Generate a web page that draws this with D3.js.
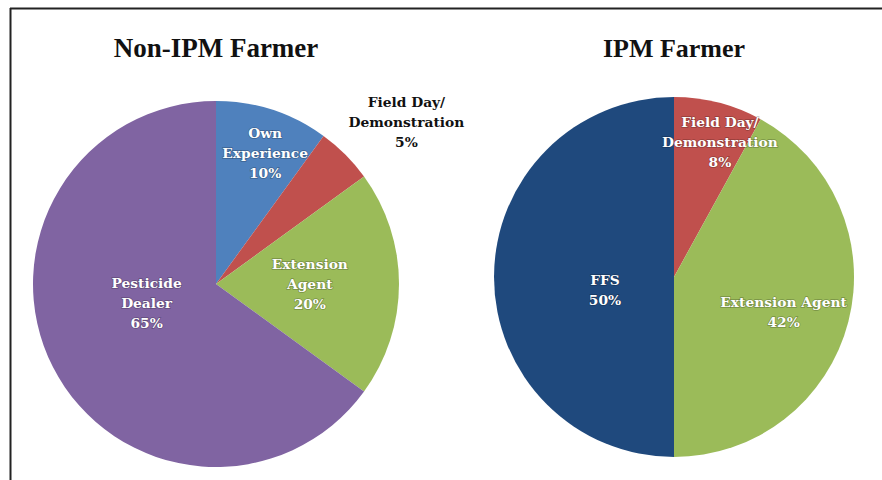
<!DOCTYPE html>
<html>
<head>
<meta charset="utf-8">
<script src="https://cdn.jsdelivr.net/npm/d3@7"></script>
<style>
  body { margin: 0; background: #fff; }
  svg { display: block; }
</style>
</head>
<body>
<div id="chart"></div>
<script>
// Sources of pest-management information, two pies

var nonIpmLabels = [["Own", "Experience"], ["Field Day/", "Demonstration"], ["Extension", "Agent"], ["Pesticide", "Dealer"]];
var nonIpmValues = [10, 5, 20, 65];
var nonIpmColors = ["#4f81bd", "#c0504d", "#9bbb59", "#8064a2"];

var ipmLabels = [["Field Day/", "Demonstration"], ["Extension Agent"], ["FFS"]];
var ipmValues = [8, 42, 50];
var ipmColors = ["#c0504d", "#9bbb59", "#1f497d"];

var width = 882, height = 480;

var svg = d3.select("#chart")
    .append("svg")
    .attr("width", width)
    .attr("height", height);

// frame lines (top and left only)
svg.append("line")
    .attr("x1", 10).attr("y1", 8.5).attr("x2", width).attr("y2", 8.5)
    .attr("stroke", "#222").attr("stroke-width", 2);
svg.append("line")
    .attr("x1", 10.5).attr("y1", 8).attr("x2", 10.5).attr("y2", height)
    .attr("stroke", "#222").attr("stroke-width", 2);

var labelFont = "'DejaVu Serif', 'Liberation Serif', serif";

function drawPie(cfg) {
    let g = svg.append("g")
        .attr("transform", "translate(" + cfg.cx + "," + cfg.cy + ")");

    let pie = d3.pie().sort(null).value(d => d);
    let arcs = pie(cfg.values);
    let arc = d3.arc().innerRadius(0).outerRadius(cfg.r);

    g.selectAll("path")
        .data(arcs)
        .enter()
        .append("path")
        .attr("d", arc)
        .attr("fill", (d, i) => cfg.colors[i]);

    svg.append("text")
        .attr("x", cfg.cx)
        .attr("y", 57)
        .attr("text-anchor", "middle")
        .attr("font-family", "'Liberation Serif', 'Times New Roman', serif")
        .attr("font-weight", 700)
        .attr("font-size", cfg.titleSize)
        .attr("fill", "#111")
        .text(cfg.title);

    // slice labels, placed along the bisector at a chosen fraction of radius
    arcs.forEach(function (a, i) {
        let p = cfg.place[i];
        let mid = (a.startAngle + a.endAngle) / 2;
        let x = cfg.cx + Math.sin(mid) * cfg.r * p.k + (p.dx || 0);
        let y = cfg.cy - Math.cos(mid) * cfg.r * p.k + (p.dy || 0);
        let lines = cfg.labels[i].concat([cfg.values[i] + "%"]);
        let t = svg.append("text")
            .attr("text-anchor", "middle")
            .attr("font-family", labelFont)
            .attr("font-weight", 700)
            .attr("font-size", "13.8px")
            .attr("fill", p.dark ? "#111" : "#fff")
            .style("paint-order", "stroke")
            .attr("stroke", p.dark ? "none" : "rgba(0,0,0,0.25)")
            .attr("stroke-width", 1.5);
        let top = y - (lines.length - 1) * 10;
        lines.forEach(function (ln, j) {
            t.append("tspan")
                .attr("x", x)
                .attr("y", top + j * 20 + 5)
                .text(ln);
        });
    });
}

drawPie({
    cx: 216, cy: 284, r: 183,
    title: "Non-IPM Farmer", titleSize: "27px",
    values: nonIpmValues, labels: nonIpmLabels, colors: nonIpmColors,
    place: [
        { k: 0.78, dx: 5, dy: 5 },
        { k: 1.0, dx: 61, dy: -33, dark: true },
        { k: 0.6, dx: -16, dy: 0 },
        { k: 0.45, dx: 4, dy: -18 }
    ]
});

drawPie({
    cx: 674, cy: 277, r: 180,
    title: "IPM Farmer", titleSize: "26px",
    values: ipmValues, labels: ipmLabels, colors: ipmColors,
    place: [
        { k: 0.78, dx: 11, dy: 1 },
        { k: 0.6, dx: 5, dy: 8 },
        { k: 0.4, dx: 3, dy: 13 }
    ]
});
</script>
</body>
</html>
